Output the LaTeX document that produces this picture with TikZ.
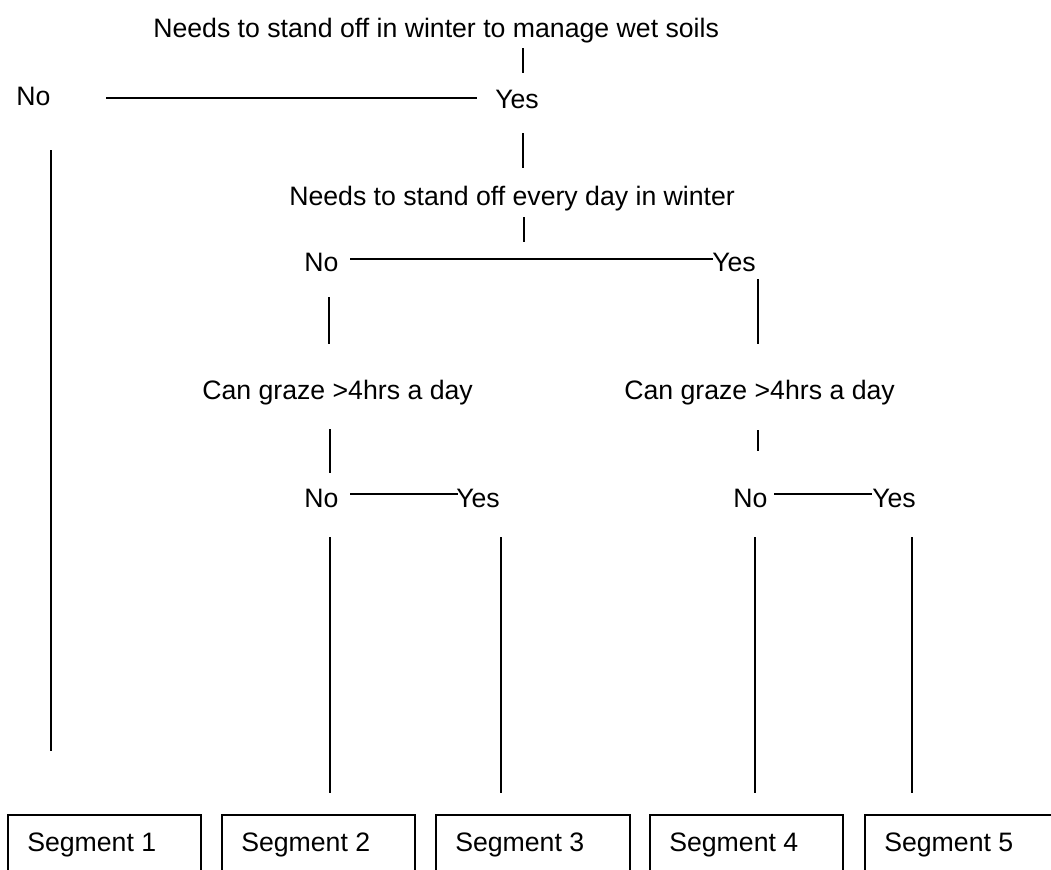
\documentclass[tikz,border=0pt]{standalone}
\usepackage{fontspec}
\setmainfont{Liberation Sans}
\begin{document}
\begin{tikzpicture}[x=0.75pt,y=-0.75pt,
  lbl/.style={anchor=base west,inner sep=0pt,font=\fontsize{20}{24}\selectfont},
  conn/.style={line width=0.9pt,black},
  hconn/.style={line width=1.1pt,black},
  segframe/.style={line width=1pt,black}]
\useasboundingbox (0,0) rectangle (1051,869);
\fill[white] (0,0) rectangle (1051,869);
\clip (0,0) rectangle (1051,869);
% texts
\node[lbl] (q1) at (153,37) {Needs to stand off in winter to manage wet soils};
\node[lbl] (no1) at (16,105) {No};
\node[lbl] (yes1) at (495,108) {Yes};
\node[lbl] (q2) at (289,205) {Needs to stand off every day in winter};
\node[lbl] (no2) at (304,271) {No};
\node[lbl] (yes2) at (712,271) {Yes};
\node[lbl] (q3) at (202,399) {Can graze >4hrs a day};
\node[lbl] (q4) at (624,399) {Can graze >4hrs a day};
\node[lbl] (no3) at (304,507) {No};
\node[lbl] (yes3) at (456,507) {Yes};
\node[lbl] (no4) at (733,507) {No};
\node[lbl] (yes4) at (872,507) {Yes};
% connector end points
\coordinate (a1) at (523,48);  \coordinate (a2) at (523,73);
\coordinate (b1) at (106,98);  \coordinate (b2) at (477,98);
\coordinate (c1) at (523,133); \coordinate (c2) at (523,168);
\coordinate (d1) at (51,150);  \coordinate (d2) at (51,751);
\coordinate (e1) at (524,217); \coordinate (e2) at (524,242);
\coordinate (f1) at (350,259); \coordinate (f2) at (713,259);
\coordinate (g1) at (329,297); \coordinate (g2) at (329,344);
\coordinate (h1) at (758,279); \coordinate (h2) at (758,344);
\coordinate (i1) at (330,429); \coordinate (i2) at (330,473);
\coordinate (j1) at (758,430); \coordinate (j2) at (758,451);
\coordinate (k1) at (350,494); \coordinate (k2) at (458,494);
\coordinate (l1) at (774,494); \coordinate (l2) at (872,494);
\coordinate (m1) at (330,537); \coordinate (m2) at (330,793);
\coordinate (n1) at (501,537); \coordinate (n2) at (501,793);
\coordinate (o1) at (755,537); \coordinate (o2) at (755,793);
\coordinate (p1) at (912,537); \coordinate (p2) at (912,793);
\draw[conn] (a1) -- (a2);
\draw[hconn] (b1) -- (b2);
\draw[conn] (c1) -- (c2);
\draw[conn] (d1) -- (d2);
\draw[conn] (e1) -- (e2);
\draw[hconn] (f1) -- (f2);
\draw[conn] (g1) -- (g2);
\draw[conn] (h1) -- (h2);
\draw[conn] (i1) -- (i2);
\draw[conn] (j1) -- (j2);
\draw[hconn] (k1) -- (k2);
\draw[hconn] (l1) -- (l2);
\draw[conn] (m1) -- (m2);
\draw[conn] (n1) -- (n2);
\draw[conn] (o1) -- (o2);
\draw[conn] (p1) -- (p2);
% segment boxes
\draw[segframe] (8,815) rectangle (201,900);
\draw[segframe] (222,815) rectangle (415,900);
\draw[segframe] (436,815) rectangle (630,900);
\draw[segframe] (650,815) rectangle (843,900);
\draw[segframe] (865,815) rectangle (1070,900);
\node[lbl] (s1) at (27,851) {Segment 1};
\node[lbl] (s2) at (241,851) {Segment 2};
\node[lbl] (s3) at (455,851) {Segment 3};
\node[lbl] (s4) at (669,851) {Segment 4};
\node[lbl] (s5) at (884,851) {Segment 5};
\end{tikzpicture}
\end{document}
